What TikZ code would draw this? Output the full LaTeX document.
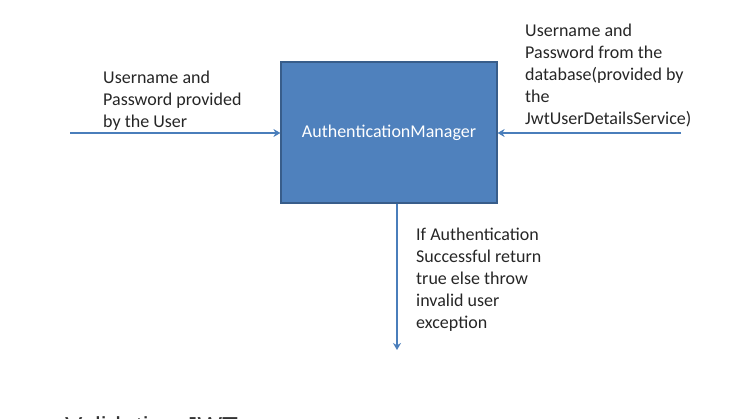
\documentclass[tikz,border=0pt]{standalone}
\usepackage{fontspec}
\setmainfont{Carlito}
\newfontfamily\arialfont{Liberation Sans}
\usetikzlibrary{positioning,arrows.meta}
\definecolor{mgrfill}{HTML}{4F81BD}
\definecolor{mgrline}{HTML}{385D8A}
\definecolor{flowline}{HTML}{4A7EBB}
\tikzset{
  flow/.style={draw=flowline, line width=1.6pt, -{Stealth[length=7pt,width=8pt]}},
  lbl/.style={anchor=base west, align=left, inner sep=0pt, text=black!85, font=\fontsize{18}{22}\selectfont}
}

\begin{document}
\begin{tikzpicture}[x=1pt,y=-1pt]
    % page frame
    \clip (0,0) rectangle (744,418);
    \useasboundingbox (0,0) rectangle (744,418);

    % manager box
    \node[draw=mgrline, fill=mgrfill, line width=1.2pt, minimum width=216pt, minimum height=141pt,
          text=white, font=\fontsize{18}{22}\selectfont] (mgr) at (389,132.5) {AuthenticationManager};

    % inputs and output
    \coordinate (userin) at (70,133);
    \coordinate (dbin) at (681,133);
    \coordinate (resout) at (397,350);
    \draw[flow] (userin) -- (userin -| mgr.west);
    \draw[flow] (dbin) -- (dbin -| mgr.east);
    \draw[flow] (resout |- mgr.south) -- (resout);

    % labels (base = last line)
    \node[lbl] (userlbl) at (103,127) {Username and\\Password provided\\by the User};
    \node[lbl] (dblbl) at (525,124) {Username and\\Password from the\\database(provided by\\the\\JwtUserDetailsService)};
    \node[lbl] (reslbl) at (416,328) {If Authentication\\Successful return\\true else throw\\invalid user\\exception};

    % title cut at the page edge
    \node[anchor=base west, inner sep=0pt, text=black!80, font=\arialfont\fontsize{26}{30}\selectfont] (title) at (65,435.5) {Validating JWT};
\end{tikzpicture}
\end{document}
